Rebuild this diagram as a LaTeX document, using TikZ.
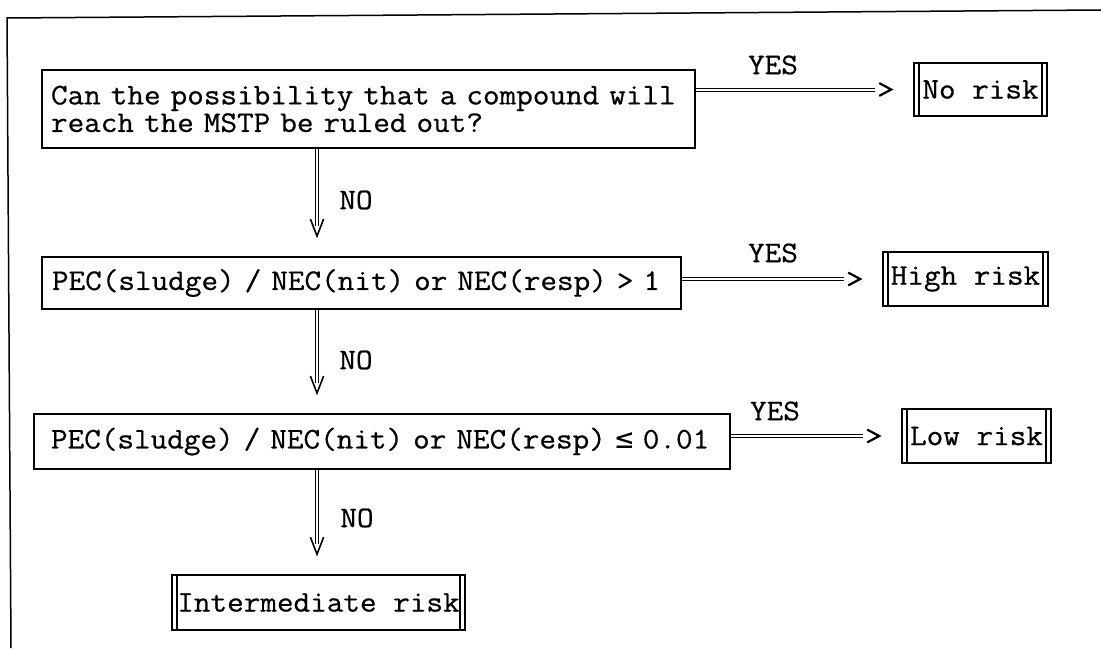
\documentclass[tikz,border=0pt]{standalone}
\usepackage{fontspec}
\setmonofont{Latin Modern Mono}[FakeStretch=1.075, FakeBold=0.6]
\newfontfamily\monosym{DejaVu Sans Mono}
\usetikzlibrary{decorations.markings}
\begin{document}
\begin{tikzpicture}[x=0.5pt, y=-0.5pt,
  every node/.style={font=\fontsize{15pt}{12.5pt}\selectfont\ttfamily, inner sep=0pt},
  % question boxes: single border, left-aligned text
  qbox/.style={draw, line width=0.9pt, align=left},
  % outcome boxes: single top/bottom, doubled left and right sides
  rbox/.style={draw, line width=0.8pt, minimum height=27pt,
    path picture={
      \draw[line width=0.7pt]
        ([xshift=2.5pt]path picture bounding box.north west) -- ([xshift=2.5pt]path picture bounding box.south west)
        ([xshift=-2.5pt]path picture bounding box.north east) -- ([xshift=-2.5pt]path picture bounding box.south east);}},
  lbl/.style={},
  % horizontal double-line arrow ending in a ">" chevron
  yesconn/.style={draw=none,
    postaction={draw, line width=0.5pt, double=white, double distance=1pt, shorten >=19pt},
    postaction={decorate},
    decoration={markings, mark=at position -11pt with {
      \draw[line width=1.1pt, line join=miter] (-6pt,3.2pt) -- (0pt,0pt) -- (-6pt,-3.2pt);}}},
  % vertical double-line arrow ending in a "V" chevron
  noconn/.style={draw=none,
    postaction={draw, line width=0.5pt, double=white, double distance=1pt, shorten >=15pt},
    postaction={decorate},
    decoration={markings, mark=at position -10pt with {
      \draw[line width=0.8pt, line join=miter] (-8.5pt,3.3pt) -- (0pt,0pt) -- (-8.5pt,-3.3pt);}}}
]
\useasboundingbox (0,0) rectangle (1101,648);

% outer frame (top and left edges)
\draw[line width=0.75pt] (1101,10) -- (7,18) -- (11,648);

% decision boxes
\node[qbox, minimum height=39pt, inner xsep=4.5pt, text width=317.5pt] (q1) at (368.5,109)
  {Can the possibility that a compound will\\reach the MSTP be ruled out?};
\node[qbox, minimum height=26pt, inner xsep=5pt, text width=309.5pt] (q2) at (361.5,283)
  {PEC(sludge) / NEC(nit) or NEC(resp) > 1};
\node[qbox, minimum height=27.5pt, inner xsep=8.5pt, text width=331pt] (q3) at (382,441.5)
  {PEC(sludge) / NEC(nit) or NEC(resp) \makebox[0.5644em]{\monosym ≤} 0.01};

% outcome boxes
\node[rbox, minimum width=66.5pt, minimum height=26.5pt] (norisk) at (980.5,89.5) {No risk};
\node[rbox, minimum width=82.5pt] (high) at (965.5,279) {High risk};
\node[rbox, minimum width=74.5pt] (low) at (976.5,436) {Low risk};
\node[rbox, minimum width=146.5pt, minimum height=27.5pt] (inter) at (318.5,602.5) {Intermediate risk};

% YES branches
\draw[yesconn] (q1.east |- norisk.west) -- (norisk.west);
\draw[yesconn] (q2.east |- high.west) -- (high.west);
\draw[yesconn] (q3.east |- low.west) -- (low.west);
\node[lbl] (yes1) at (773,65) {YES};
\node[lbl] (yes2) at (773,253) {YES};
\node[lbl] (yes3) at (775,411) {YES};

% NO branches
\coordinate (spine) at (317,0);
\draw[noconn] (q1.south -| spine) -- (q2.north -| spine);
\draw[noconn] (q2.south -| spine) -- (q3.north -| spine);
\draw[noconn] (q3.south -| spine) -- (inter.north -| spine);
\node[lbl] (no1) at (356,200) {NO};
\node[lbl] (no2) at (356,360) {NO};
\node[lbl] (no3) at (357,518) {NO};
\end{tikzpicture}
\end{document}
